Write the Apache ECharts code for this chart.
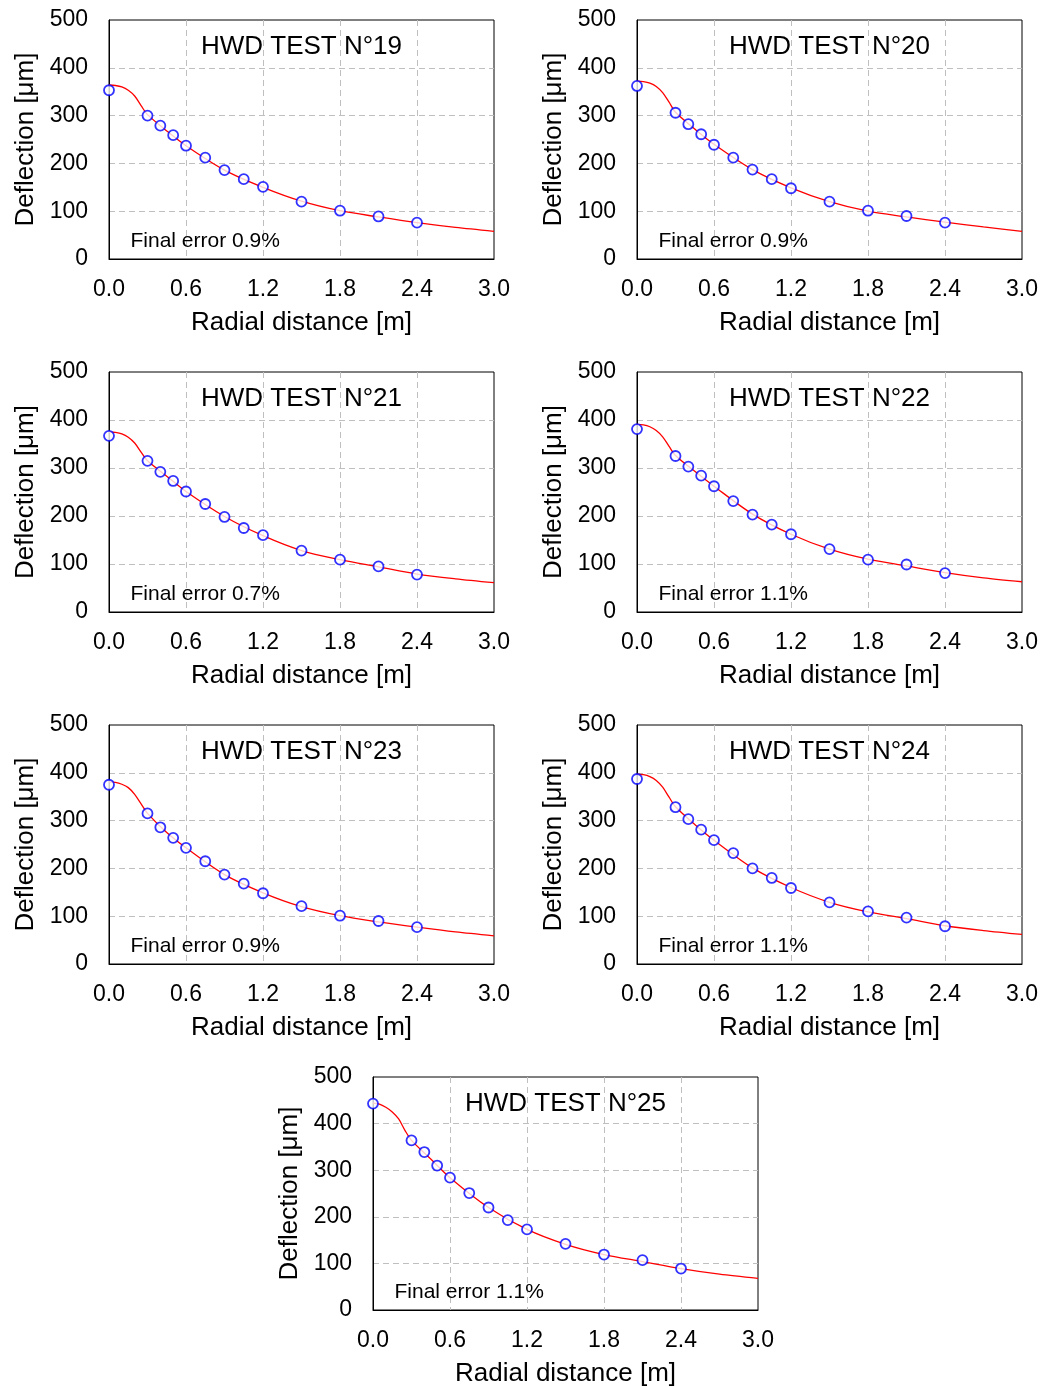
<!DOCTYPE html>
<html>
<head>
<meta charset="utf-8">
<script src="https://cdn.jsdelivr.net/npm/echarts@6/dist/echarts.min.js"></script>
<style>
html,body{margin:0;padding:0;background:#fff;}
#chart{width:1047px;height:1387px;}
</style>
</head>
<body>
<div id="chart"></div>
<script>
// ---- data ----
const testNames = ['HWD TEST N°19','HWD TEST N°20','HWD TEST N°21','HWD TEST N°22','HWD TEST N°23','HWD TEST N°24','HWD TEST N°25'];
const finalErrors = ['Final error 0.9%','Final error 0.9%','Final error 0.7%','Final error 1.1%','Final error 0.9%','Final error 1.1%','Final error 1.1%'];

const sensorRadius = [0, 0.3, 0.4, 0.5, 0.6, 0.75, 0.9, 1.05, 1.2, 1.5, 1.8, 2.1, 2.4];
const meas19 = [353, 300, 279, 259, 237, 212, 186, 167, 151, 120, 101, 89, 76];
const meas20 = [362, 306, 282, 261, 239, 212, 187, 167, 148, 120, 101, 90, 76];
const meas21 = [367, 315, 292, 273, 251, 225, 198, 175, 160, 128, 109, 95, 78];
const meas22 = [381, 325, 303, 284, 262, 231, 203, 182, 162, 131, 109, 99, 81];
const meas23 = [375, 315, 286, 264, 243, 215, 187, 168, 148, 121, 101, 90, 77];
const meas24 = [387, 328, 303, 281, 259, 232, 200, 180, 159, 129, 110, 97, 79];
const meas25 = [443, 364, 339, 310, 284, 251, 220, 193, 173, 142, 119, 107, 89];

const fitRadius = [0, 0.05, 0.1, 0.15, 0.2, 0.25, 0.3, 0.45, 0.6, 0.9, 1.2, 1.5, 1.8, 2.1, 2.4, 2.7, 3.0];
const fit19 = [364, 363, 360, 353, 341, 321, 302, 268, 237, 186, 150, 121, 101, 88, 76, 66, 58];
const fit20 = [372, 371, 368, 361, 348, 328, 307, 272, 240, 187, 149, 120, 100, 88, 77, 67, 58];
const fit21 = [375, 374, 371, 364, 352, 333, 315, 283, 251, 199, 159, 128, 109, 94, 79, 69, 61];
const fit22 = [391, 390, 386, 378, 365, 345, 326, 293, 262, 204, 162, 131, 110, 96, 82, 71, 63];
const fit23 = [381, 380, 376, 369, 355, 335, 315, 275, 243, 187, 149, 120, 101, 88, 77, 67, 59];
const fit24 = [397, 396, 392, 384, 370, 349, 329, 292, 259, 201, 160, 129, 109, 95, 80, 70, 62];
const fit25 = [444, 442, 435, 425, 410, 385, 364, 324, 284, 220, 173, 141, 119, 104, 89, 77, 68];

const measured = [meas19, meas20, meas21, meas22, meas23, meas24, meas25];
const fitted = [fit19, fit20, fit21, fit22, fit23, fit24, fit25];

// ---- layout ----
const FONT = "'Liberation Sans', Arial, sans-serif";
const gridBoxes = [
  {left:109, top:20, height:239},
  {left:637, top:20, height:239},
  {left:109, top:372, height:240},
  {left:637, top:372, height:240},
  {left:109, top:725, height:239},
  {left:637, top:725, height:239},
  {left:373, top:1077, height:233}
];
const GW = 385;

const grids = [], xAxes = [], yAxes = [], series = [], graphics = [];
gridBoxes.forEach((g, i) => {
  grids.push({left:g.left, top:g.top, width:GW, height:g.height, show:true,
    borderColor:'#000', borderWidth:1, backgroundColor:'#fff',
    containLabel:false, outerBoundsMode:'none'});
  xAxes.push({type:'value', gridIndex:i, min:0, max:3, interval:0.6,
    name:'Radial distance [m]', nameLocation:'middle', nameGap:50.5,
    nameTextStyle:{fontFamily:FONT, fontSize:26, color:'#000'},
    axisLine:{show:true, onZero:false, lineStyle:{color:'#000', width:1}},
    axisTick:{show:false},
    axisLabel:{fontFamily:FONT, fontSize:23, color:'#000', margin:19, formatter:v => v.toFixed(1)},
    splitLine:{show:true, showMinLine:false, showMaxLine:false,
      lineStyle:{color:'#bfbfbf', width:1, type:[6,4]}}
  });
  yAxes.push({type:'value', gridIndex:i, min:0, max:500, interval:100,
    name:'Deflection [μm]', nameLocation:'middle', nameGap:70, nameRotate:90,
    nameTextStyle:{fontFamily:FONT, fontSize:26, color:'#000'},
    axisLine:{show:true, onZero:false, lineStyle:{color:'#000', width:1}},
    axisTick:{show:false},
    axisLabel:{fontFamily:FONT, fontSize:23, color:'#000', margin:21},
    splitLine:{show:true, showMinLine:false, showMaxLine:false,
      lineStyle:{color:'#bfbfbf', width:1, type:[6,4]}}
  });
  series.push({type:'line', xAxisIndex:i, yAxisIndex:i, showSymbol:false, symbol:'none',
    smooth:0.3,
    lineStyle:{color:'#ff0000', width:1.3}, z:2, silent:true,
    data: fitRadius.map((r, k) => [r, fitted[i][k]])});
  series.push({type:'scatter', xAxisIndex:i, yAxisIndex:i, symbol:'circle', symbolSize:10,
    itemStyle:{color:'#fff', borderColor:'#0000ff', borderWidth:1.8}, z:3, clip:false, silent:true,
    data: sensorRadius.map((r, k) => [r, measured[i][k]])});
  graphics.push({type:'text', x:g.left + GW/2, y:g.top + 27, z:10,
    style:{text:testNames[i], font:'26px ' + FONT, fill:'#000', align:'center', verticalAlign:'middle'}});
  graphics.push({type:'text', x:g.left + 21.5, y:g.top + g.height - 18, z:10,
    style:{text:finalErrors[i], font:'21px ' + FONT, fill:'#000', align:'left', verticalAlign:'middle'}});
});

const chart = echarts.init(document.getElementById('chart'), null, {renderer:'canvas'});
chart.setOption({
  backgroundColor:'#fff',
  animation:false,
  grid:grids, xAxis:xAxes, yAxis:yAxes, series:series, graphic:graphics
});
</script>
</body>
</html>
